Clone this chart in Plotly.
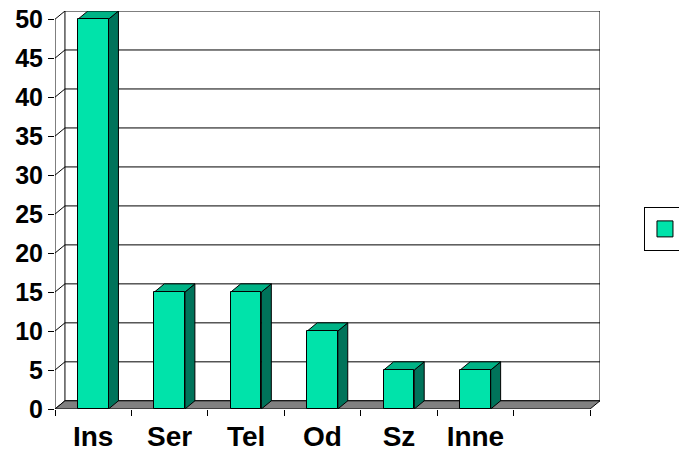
import plotly.graph_objects as go

categories = ["Ins", "Ser", "Tel", "Od", "Sz", "Inne"]
values = [50, 15, 15, 10, 5, 5]
n_slots = 7
y_ticks = [0, 5, 10, 15, 20, 25, 30, 35, 40, 45, 50]

FRONT = "#00E3AA"
SIDE = "#00735A"
TOP = "#00B386"
FLOOR = "#808080"
DX = 0.13   # depth offset (category units)
DY = 1.05   # depth offset (value units)
BW = 0.4    # bar width
YMAX = max(y_ticks)

xs = list(range(len(categories)))
left, right = -0.5, n_slots - 0.5

shapes = []
# back wall gridlines + left diagonal connectors
for v in y_ticks:
    shapes.append(dict(type="line", xref="x", yref="y", layer="below",
                       x0=left + DX, y0=v + DY, x1=right + DX, y1=v + DY,
                       line=dict(color="black", width=1)))
    shapes.append(dict(type="line", xref="x", yref="y", layer="below",
                       x0=left, y0=v, x1=left + DX, y1=v + DY,
                       line=dict(color="black", width=1)))
# back wall verticals
for xv in (left + DX, right + DX):
    shapes.append(dict(type="line", xref="x", yref="y", layer="below",
                       x0=xv, y0=DY, x1=xv, y1=YMAX + DY,
                       line=dict(color="black", width=1)))
# front value axis line
shapes.append(dict(type="line", xref="x", yref="y", layer="below",
                   x0=left, y0=0, x1=left, y1=YMAX,
                   line=dict(color="black", width=1)))
# floor
shapes.append(dict(type="path", xref="x", yref="y", layer="below",
                   path=f"M{left},0 L{right},0 L{right + DX},{DY} L{left + DX},{DY} Z",
                   fillcolor=FLOOR, line=dict(color="black", width=1)))
# bar side and top faces
for x, v in zip(xs, values):
    x0, x1 = x - BW / 2, x + BW / 2
    shapes.append(dict(type="path", xref="x", yref="y", layer="below",
                       path=f"M{x1},0 L{x1 + DX},{DY} L{x1 + DX},{v + DY} L{x1},{v} Z",
                       fillcolor=SIDE, line=dict(color="black", width=1)))
    shapes.append(dict(type="path", xref="x", yref="y", layer="below",
                       path=f"M{x0},{v} L{x0 + DX},{v + DY} L{x1 + DX},{v + DY} L{x1},{v} Z",
                       fillcolor=TOP, line=dict(color="black", width=1)))

fig = go.Figure()
fig.add_trace(go.Bar(x=xs, y=values, width=BW, showlegend=False,
                     marker=dict(color=FRONT, line=dict(color="black", width=1))))
fig.add_trace(go.Scatter(x=[None], y=[None], mode="markers", name="        ",
                         marker=dict(symbol="square", size=18, color=FRONT,
                                     line=dict(color="black", width=1))))

tickfont_x = dict(family="Liberation Sans, Arial", size=28, color="black", weight="bold")
tickfont_y = dict(family="Liberation Sans, Arial", size=25, color="black", weight="bold")

fig.update_layout(
    width=679, height=453,
    margin=dict(l=55, r=79, t=11, b=44, autoexpand=False),
    plot_bgcolor="white", paper_bgcolor="white",
    shapes=shapes,
    bargap=0,
    xaxis=dict(range=[left, right + DX], tickmode="array", tickvals=xs, ticktext=categories,
               ticks="", showgrid=False, zeroline=False, showline=False,
               tickfont=tickfont_x, ticklabelstandoff=8, automargin=False,
               minor=dict(tickmode="linear", tick0=left, dtick=1, ticks="outside",
                          ticklen=6, tickcolor="black", showgrid=False)),
    yaxis=dict(range=[0, YMAX + DY], tickmode="array", tickvals=y_ticks,
               ticks="outside", ticklen=6, tickcolor="black", automargin=False,
               showgrid=False, zeroline=False, showline=False, tickfont=tickfont_y),
    showlegend=True,
    legend=dict(x=1.0807, y=0.452, xanchor="left", yanchor="middle",
                bordercolor="black", borderwidth=1, bgcolor="white",
                font=dict(size=22), itemsizing="trace"),
)

fig.write_html("out.html")
